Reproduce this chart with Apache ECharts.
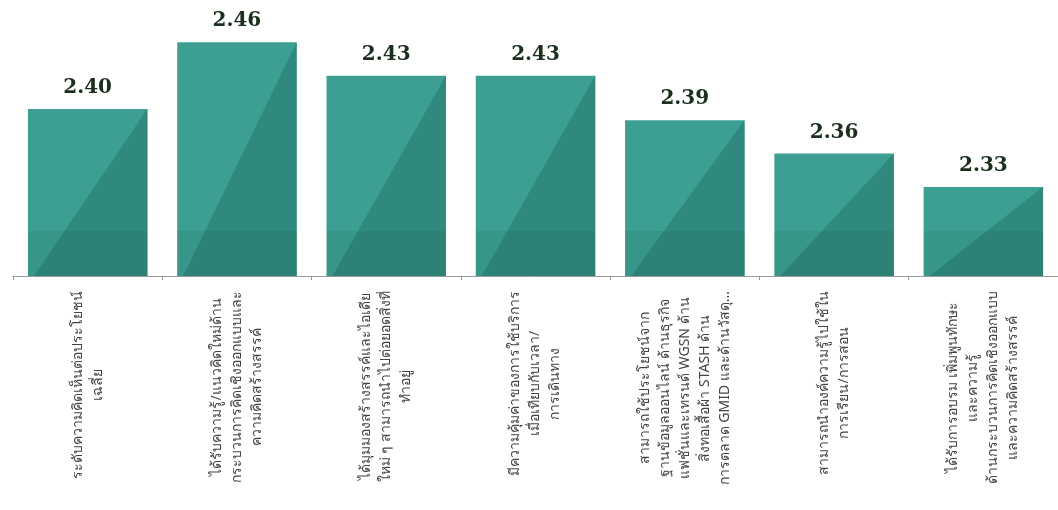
<!DOCTYPE html>
<html>
<head>
<meta charset="utf-8">
<script src="https://cdn.jsdelivr.net/npm/echarts@6/dist/echarts.min.js"></script>
<style>
  html, body { margin: 0; padding: 0; background: #ffffff; }
  #chart { width: 1058px; height: 510px; }
</style>
</head>
<body>
<div id="chart"></div>
<script>
var categories = [
  "ระดับความคิดเห็นต่อประโยชน์\nเฉลี่ย",
  "ได้รับความรู้/แนวคิดใหม่ด้าน\nกระบวนการคิดเชิงออกแบบและ\nความคิดสร้างสรรค์",
  "ได้มุมมองสร้างสรรค์และไอเดีย\nใหม่ ๆ สามารถนำไปต่อยอดสิ่งที่\nทำอยู่",
  "มีความคุ้มค่าของการใช้บริการ\nเมื่อเทียบกับเวลา/\nการเดินทาง",
  "สามารถใช้ประโยชน์จาก\nฐานข้อมูลออนไลน์ ด้านธุรกิจ\nแฟชั่นและเทรนด์ WGSN ด้าน\nสิ่งทอเสื้อผ้า STASH ด้าน\nการตลาด GMID และด้านวัสดุ...",
  "สามารถนำองค์ความรู้ไปใช้ใน\nการเรียน/การสอน",
  "ได้รับการอบรม เพิ่มพูนทักษะ\nและความรู้\nด้านกระบวนการคิดเชิงออกแบบ\nและความคิดสร้างสรรค์"
];
var values = [2.40, 2.46, 2.43, 2.43, 2.39, 2.36, 2.33];
var yMin = 2.25;
var yMax = 2.48;

var chart = echarts.init(document.getElementById('chart'), null, { renderer: 'canvas' });

var seriesData = values.map(function (v, i) { return [i, v]; });

var option = {
  animation: false,
  backgroundColor: '#ffffff',
  grid: { left: 13, right: 0, top: 20, bottom: 234, containLabel: false },
  xAxis: {
    type: 'category',
    data: categories,
    axisLine: { show: true, lineStyle: { color: '#9a9a9a', width: 1 } },
    axisTick: { show: true, alignWithLabel: false, length: 4, lineStyle: { color: '#9a9a9a' } },
    axisLabel: {
      interval: 0,
      rotate: 90,
      margin: 15,
      color: '#404040',
      fontFamily: 'Noto Sans',
      fontSize: 14,
      formatter: function (v) {
        return v.split('\n').map(function (s) { return '{c|' + s + '}'; }).join('\n');
      },
      rich: {
        c: { align: 'center', fontSize: 14, lineHeight: 20, color: '#444444', fontFamily: 'Noto Sans' }
      }
    }
  },
  yAxis: {
    type: 'value',
    min: yMin,
    max: yMax,
    show: false,
    splitLine: { show: false }
  },
  series: [{
    type: 'custom',
    data: seriesData,
    renderItem: function (params, api) {
      var i = api.value(0);
      var v = api.value(1);
      var top = api.coord([i, v]);
      var base = api.coord([i, yMin]);
      var bw = api.size([1, 0])[0] * 0.8;
      var x0 = top[0] - bw / 2, x1 = top[0] + bw / 2;
      var y0 = top[1], y1 = base[1];
      var bandH = Math.min(45, y1 - y0);
      return {
        type: 'group',
        children: [
          { type: 'rect', shape: { x: x0, y: y0, width: bw, height: y1 - y0 },
            style: { fill: '#3d9f91' } },
          { type: 'polygon', shape: { points: [[x1, y0], [x1, y1], [x0 + 6, y1]] },
            style: { fill: '#2f897c' } },
          { type: 'rect', shape: { x: x0, y: y1 - bandH, width: bw, height: bandH },
            style: { fill: 'rgba(0,40,30,0.07)' } },
          { type: 'text',
            style: {
              text: v.toFixed(2),
              x: top[0], y: y0 - 11,
              textAlign: 'center', textVerticalAlign: 'bottom',
              font: 'bold 20px "DejaVu Serif"',
              fill: '#1c2e1e'
            } }
        ]
      };
    }
  }]
};
chart.setOption(option);
</script>
</body>
</html>
